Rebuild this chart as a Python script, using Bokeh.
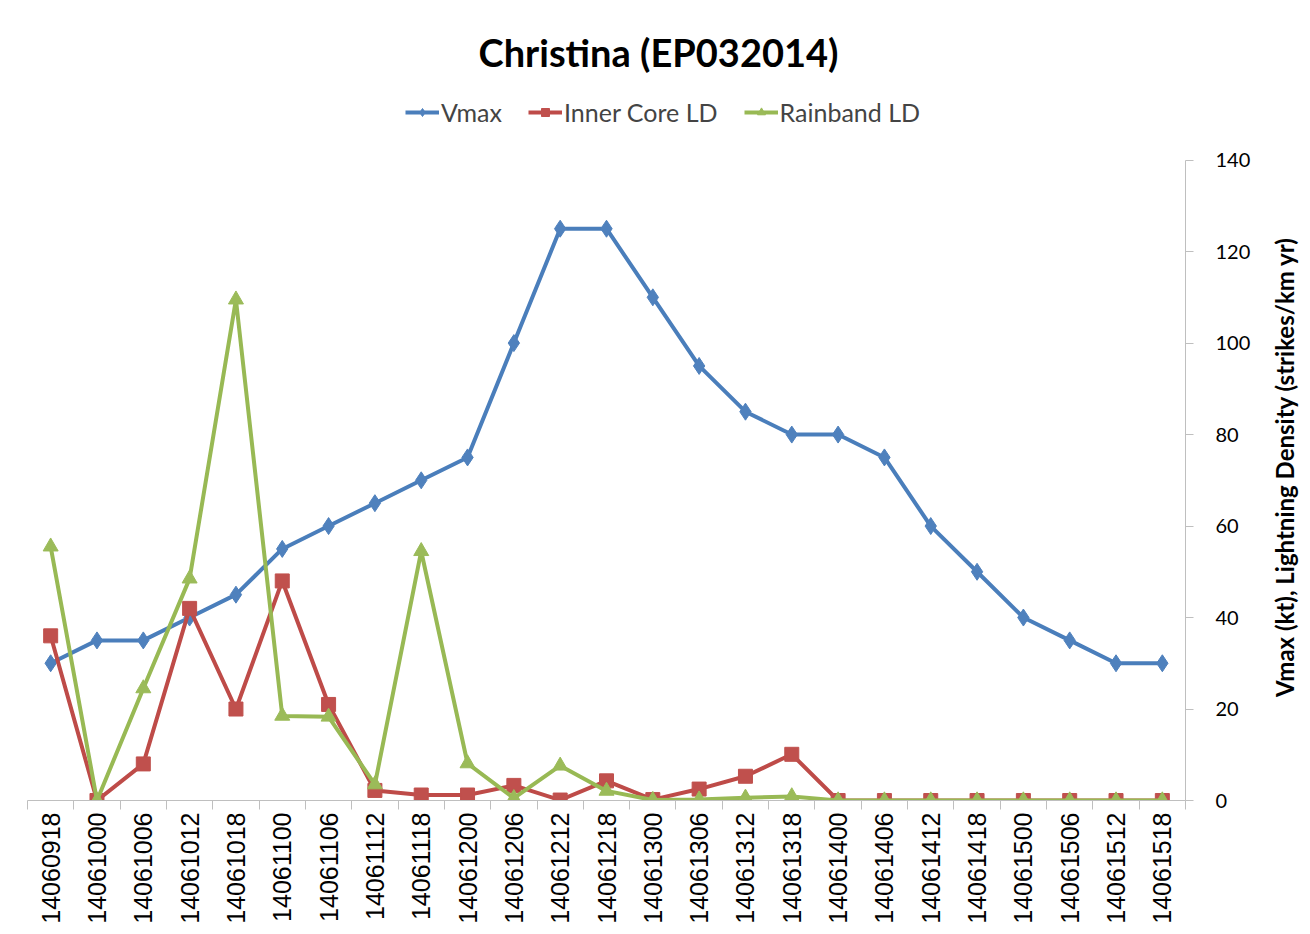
import math
from bokeh.plotting import figure
from bokeh.layouts import row
from bokeh.models import Range1d, FixedTicker, Legend, LegendItem, Div
from bokeh.embed import file_html
from bokeh.resources import INLINE

times = ["14060918", "14061000", "14061006", "14061012", "14061018", "14061100",
         "14061106", "14061112", "14061118", "14061200", "14061206", "14061212",
         "14061218", "14061300", "14061306", "14061312", "14061318", "14061400",
         "14061406", "14061412", "14061418", "14061500", "14061506", "14061512",
         "14061518"]
vmax = [30, 35, 35, 40, 45, 55, 60, 65, 70, 75, 100, 125, 125, 110, 95, 85, 80, 80,
        75, 60, 50, 40, 35, 30, 30]
inner_core = [36, 0, 8, 42, 20, 48, 21, 2.2, 1.2, 1.2, 3.3, 0.1, 4.3, 0.2, 2.5, 5.3, 10.1, 0,
              0, 0, 0, 0, 0, 0, 0]
rainband = [55.5, 0, 24.5, 48.5, 109.5, 18.5, 18.3, 3.5, 54.5, 8.1, 0.5, 7.6, 2.1, 0.1, 0.2, 0.6, 0.9, 0,
            0, 0, 0, 0, 0, 0, 0]
y_ticks = [0, 20, 40, 60, 80, 100, 120, 140]
y_title = "Vmax (kt), Lightning Density (strikes/km yr)"

x = list(range(len(times)))
FONT = "Lato"
BLUE, BLUE_F = "#4A7EBB", "#4F81BD"
RED, RED_F = "#BE4B48", "#C0504D"
GREEN, GREEN_F = "#98B954", "#9BBB59"

p = figure(width=1265, height=926, output_backend="svg", toolbar_location=None,
           x_range=Range1d(-0.5, len(times) - 0.5), y_range=Range1d(0, 155),
           y_axis_location="right",
           min_border_left=27, min_border_right=80, min_border_bottom=126, min_border_top=91)

p.title.text = "Christina (EP032014)"
p.title.align = "left"
p.title.offset = 451
p.title.text_font = FONT
p.title.text_font_style = "bold"
p.title.text_font_size = "38px"
p.title.text_color = "black"
p.title.standoff = 33

p.xgrid.visible = False
p.ygrid.visible = False
p.outline_line_color = None

r1 = p.line(x, vmax, line_width=4, color=BLUE)
s1 = p.scatter(x, vmax, marker="diamond", size=17, color=BLUE_F)
r2 = p.line(x, inner_core, line_width=4, color=RED)
s2 = p.scatter(x, inner_core, marker="square", size=14, color=RED_F)
r3 = p.line(x, rainband, line_width=4, color=GREEN)
s3 = p.scatter(x, rainband, marker="triangle", size=15, color=GREEN_F)

legend = Legend(items=[LegendItem(label="Vmax", renderers=[r1, s1]),
                       LegendItem(label="Inner Core LD", renderers=[r2, s2]),
                       LegendItem(label="Rainband LD", renderers=[r3, s3])],
                orientation="horizontal", location=(378, 673),
                border_line_color=None, background_fill_alpha=0,
                label_text_font=FONT, label_text_font_size="25px",
                glyph_width=34, glyph_height=20, spacing=26, padding=0,
                label_standoff=2, margin=0)
p.add_layout(legend, "center")

xa = p.xaxis[0]
xa.ticker = FixedTicker(ticks=x, minor_ticks=[i - 0.5 for i in range(len(times) + 1)])
xa.major_label_overrides = {i: t for i, t in zip(x, times)}
xa.major_label_orientation = math.pi / 2
xa.major_label_text_font = "Liberation Sans"
xa.major_label_text_font_size = "25px"
xa.major_label_text_color = "black"
xa.major_tick_line_color = None
xa.major_tick_out = 0
xa.major_tick_in = 0
xa.minor_tick_out = 9
xa.minor_tick_in = 0
xa.minor_tick_line_color = "#bfbfbf"
xa.axis_line_color = "#bfbfbf"
xa.major_label_standoff = 3

ya = p.yaxis[0]
ya.ticker = FixedTicker(ticks=y_ticks)
ya.bounds = (0, 140)
ya.axis_line_color = "#bfbfbf"
ya.major_tick_line_color = "#bfbfbf"
ya.major_tick_out = 8
ya.major_tick_in = 0
ya.minor_tick_line_color = None
ya.major_label_text_font = FONT
ya.major_label_text_font_size = "20px"
ya.major_label_text_color = "black"
ya.major_label_standoff = 22

label_div = Div(text=y_title, width=37, height=926,
                styles={"writing-mode": "vertical-rl", "transform": "rotate(180deg)",
                        "text-align": "center", "font-family": FONT, "font-weight": "bold",
                        "font-size": "24px", "color": "black", "line-height": "29px",
                        "white-space": "nowrap"})

layout = row(p, label_div, spacing=0)
open("out.html", "w").write(file_html(layout, INLINE))
